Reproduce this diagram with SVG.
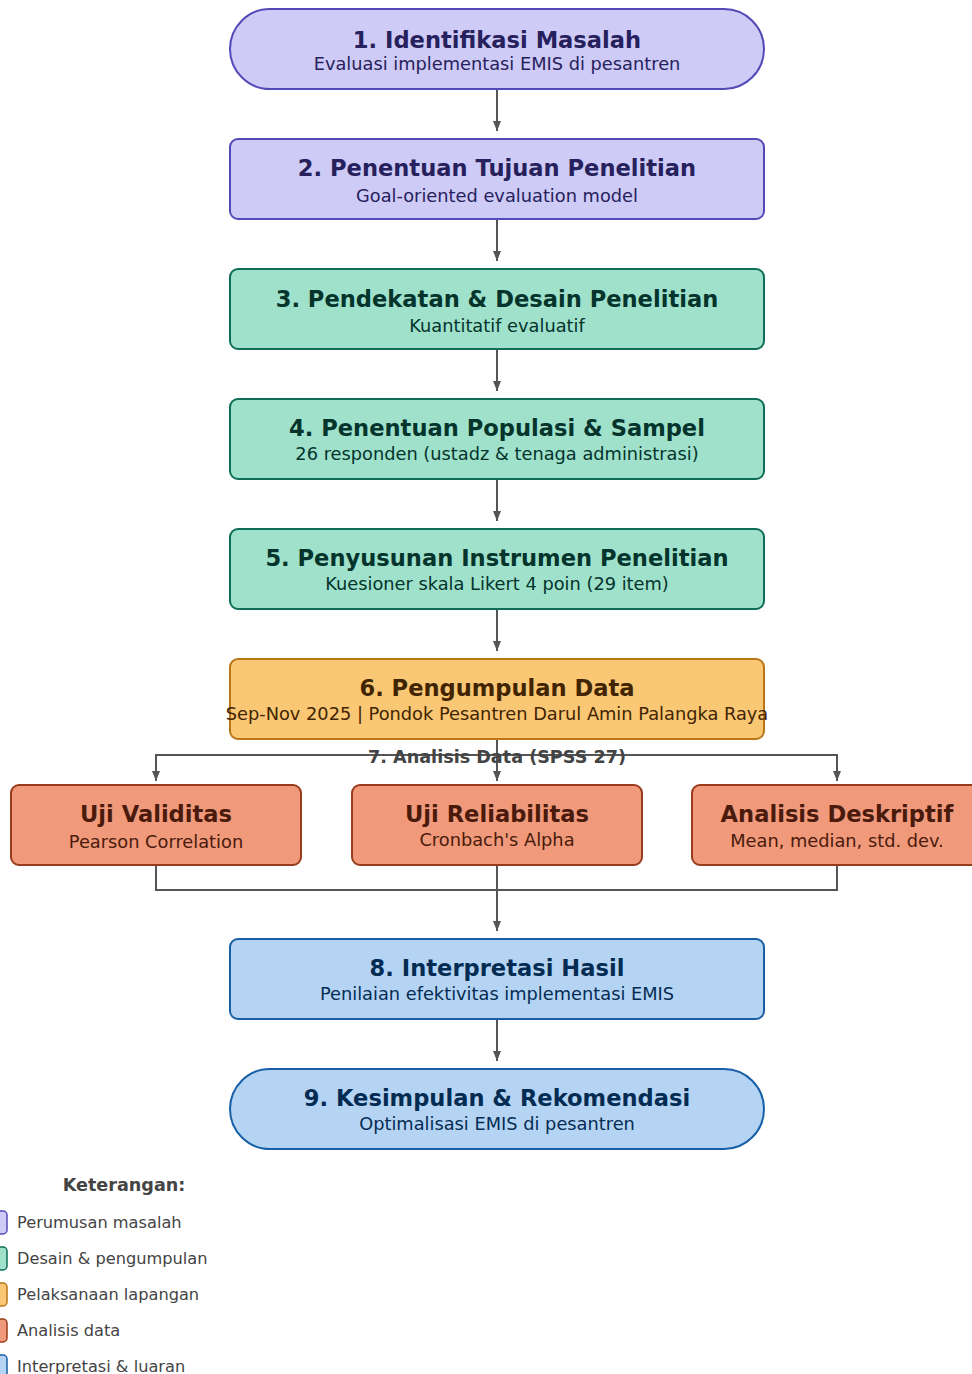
<svg xmlns="http://www.w3.org/2000/svg" width="972" height="1374" viewBox="0 0 972 1374">
<style>
text{font-family:"DejaVu Sans","Liberation Sans",sans-serif;text-anchor:middle}
.t{font-size:22.6px;font-weight:bold}
.s{font-size:17.8px}
.n{stroke-width:2}
.pu rect{fill:#cecbf6;stroke:#534ab7}.pu text{fill:#26215c}
.gr rect{fill:#9fe1cb;stroke:#0f6e56}.gr text{fill:#04342c}
.or rect{fill:#fac775;stroke:#ba7517}.or text{fill:#412402}
.co rect{fill:#f0997b;stroke:#993c1d}.co text{fill:#4a1b0c}
.bl rect{fill:#b5d4f4;stroke:#185fa5}.bl text{fill:#042c53}
.c{fill:none;stroke:#555;stroke-width:2}
.lg text{text-anchor:start;font-size:16.2px;fill:#444}
.lg rect{stroke-width:1.5}
</style>
<defs>
<marker id="ah" markerUnits="userSpaceOnUse" markerWidth="10" markerHeight="10" refX="10" refY="5" orient="auto"><path d="M0,1 L10,5 L0,9 z" fill="#555"/></marker>
</defs>
<rect width="972" height="1374" fill="#fff"/>
<g id="connectors">
<path class="c" d="M497,89 V131" marker-end="url(#ah)"/>
<path class="c" d="M497,219 V261" marker-end="url(#ah)"/>
<path class="c" d="M497,349 V391" marker-end="url(#ah)"/>
<path class="c" d="M497,479 V521" marker-end="url(#ah)"/>
<path class="c" d="M497,609 V651" marker-end="url(#ah)"/>
<path class="c" d="M497,739 V781" marker-end="url(#ah)"/>
<path class="c" d="M156,755 H837"/>
<path class="c" d="M156,754 V781" marker-end="url(#ah)"/>
<path class="c" d="M837,754 V781" marker-end="url(#ah)"/>
<path class="c" d="M156,865 V890 H837 V865"/>
<path class="c" d="M497,865 V931" marker-end="url(#ah)"/>
<path class="c" d="M497,1019 V1061" marker-end="url(#ah)"/>
<text x="497" y="763" style="font-size:17.6px;font-weight:bold;fill:#444">7. Analisis Data (SPSS 27)</text>
</g>
<g id="n1" class="pu"><rect class="n" x="230" y="9" width="534" height="80" rx="40"/><text class="t" x="497" y="48">1. Identifikasi Masalah</text><text class="s" x="497" y="70">Evaluasi implementasi EMIS di pesantren</text></g>
<g id="n2" class="pu"><rect class="n" x="230" y="139" width="534" height="80" rx="8"/><text class="t" x="497" y="176">2. Penentuan Tujuan Penelitian</text><text class="s" x="497" y="202">Goal-oriented evaluation model</text></g>
<g id="n3" class="gr"><rect class="n" x="230" y="269" width="534" height="80" rx="8"/><text class="t" x="497" y="307">3. Pendekatan &amp; Desain Penelitian</text><text class="s" x="497" y="332">Kuantitatif evaluatif</text></g>
<g id="n4" class="gr"><rect class="n" x="230" y="399" width="534" height="80" rx="8"/><text class="t" x="497" y="436">4. Penentuan Populasi &amp; Sampel</text><text class="s" x="497" y="460">26 responden (ustadz &amp; tenaga administrasi)</text></g>
<g id="n5" class="gr"><rect class="n" x="230" y="529" width="534" height="80" rx="8"/><text class="t" x="497" y="566">5. Penyusunan Instrumen Penelitian</text><text class="s" x="497" y="590">Kuesioner skala Likert 4 poin (29 item)</text></g>
<g id="n6" class="or"><rect class="n" x="230" y="659" width="534" height="80" rx="8"/><text class="t" x="497" y="696">6. Pengumpulan Data</text><text class="s" x="497" y="720">Sep-Nov 2025 | Pondok Pesantren Darul Amin Palangka Raya</text></g>
<g id="n7a" class="co"><rect class="n" x="11" y="785" width="290" height="80" rx="8"/><text class="t" x="156" y="822">Uji Validitas</text><text class="s" x="156" y="848">Pearson Correlation</text></g>
<g id="n7b" class="co"><rect class="n" x="352" y="785" width="290" height="80" rx="8"/><text class="t" x="497" y="822">Uji Reliabilitas</text><text class="s" x="497" y="846">Cronbach's Alpha</text></g>
<g id="n7c" class="co"><rect class="n" x="692" y="785" width="290" height="80" rx="8"/><text class="t" x="837" y="822">Analisis Deskriptif</text><text class="s" x="837" y="847">Mean, median, std. dev.</text></g>
<g id="n8" class="bl"><rect class="n" x="230" y="939" width="534" height="80" rx="8"/><text class="t" x="497" y="976">8. Interpretasi Hasil</text><text class="s" x="497" y="1000">Penilaian efektivitas implementasi EMIS</text></g>
<g id="n9" class="bl"><rect class="n" x="230" y="1069" width="534" height="80" rx="40"/><text class="t" x="497" y="1106">9. Kesimpulan &amp; Rekomendasi</text><text class="s" x="497" y="1130">Optimalisasi EMIS di pesantren</text></g>
<g id="legend" class="lg">
<text x="124" y="1191" style="text-anchor:middle;font-size:17.6px;font-weight:bold">Keterangan:</text>
<g class="pu"><rect x="-10" y="1211" width="17" height="23" rx="4"/><text x="17" y="1228" style="fill:#444">Perumusan masalah</text></g>
<g class="gr"><rect x="-10" y="1247" width="17" height="23" rx="4"/><text x="17" y="1264" style="fill:#444">Desain &amp; pengumpulan</text></g>
<g class="or"><rect x="-10" y="1283" width="17" height="23" rx="4"/><text x="17" y="1300" style="fill:#444">Pelaksanaan lapangan</text></g>
<g class="co"><rect x="-10" y="1319" width="17" height="23" rx="4"/><text x="17" y="1336" style="fill:#444">Analisis data</text></g>
<g class="bl"><rect x="-10" y="1355" width="17" height="23" rx="4"/><text x="17" y="1372" style="fill:#444">Interpretasi &amp; luaran</text></g>
</g>
</svg>
